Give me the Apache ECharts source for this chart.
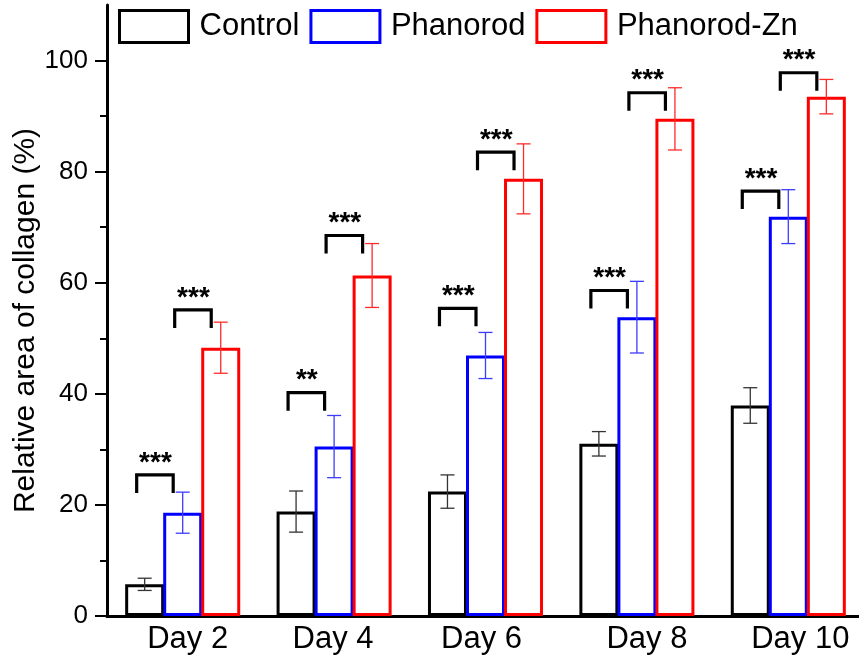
<!DOCTYPE html>
<html><head><meta charset="utf-8">
<script src="https://cdn.jsdelivr.net/npm/echarts@6/dist/echarts.min.js"></script>
<style>html,body{margin:0;padding:0;background:#fff}#c{width:859px;height:663px}</style>
</head><body><div id="c"></div>
<script>
// ---- data ----
const categories = ['Day 2', 'Day 4', 'Day 6', 'Day 8', 'Day 10'];
const seriesNames = ['Control', 'Phanorod', 'Phanorod-Zn'];
const controlMean = [5.7, 18.8, 22.4, 31.0, 37.9];
const controlErr = [1.1, 3.7, 3.0, 2.2, 3.2];
const phanorodMean = [18.6, 30.5, 46.9, 53.8, 71.9];
const phanorodErr = [3.7, 5.6, 4.15, 6.45, 4.85];
const phanorodZnMean = [48.3, 61.3, 78.7, 89.5, 93.5];
const phanorodZnErr = [4.6, 5.75, 6.3, 5.6, 3.1];
const sigCtrlVsPhanorodLevel = [25.4, 40.2, 55.4, 58.6, 76.5];
const sigCtrlVsPhanorodText = ['***', '**', '***', '***', '***'];
const sigPhanorodVsZnLevel = [55.1, 68.5, 83.5, 94.2, 97.8];
const sigPhanorodVsZnText = ['***', '***', '***', '***', '***'];
const yTickValues = [0, 20, 40, 60, 80, 100];
const yMinorTickValues = [10, 30, 50, 70, 90];

// ---- styles / layout ----
const FONT = 'Liberation Sans, Arial, Helvetica, sans-serif';
const colors = ['#000000', '#0000ff', '#ff0000'];
const errColors = ['#333333', '#3c3cff', '#ff2a2a'];
const BAR_W = 39, BAR_GAP = -0.025, STEP = BAR_W * (1 + BAR_GAP), CAP = 14;
const labelShiftPx = [5, -1, -4, 10, 12]; // visual nudge of category labels (style only)

const means = [controlMean, phanorodMean, phanorodZnMean];
const errs = [controlErr, phanorodErr, phanorodZnErr];

function errRender(si) {
  return function (params, api) {
    const cat = api.value(0), m = api.value(1), e = api.value(2);
    const x = api.coord([cat, m])[0] + (si - 1) * STEP;
    const yt = api.coord([cat, m + e])[1];
    const yb = api.coord([cat, m - e])[1];
    const st = { stroke: errColors[si], lineWidth: 1.3 };
    return { type: 'group', children: [
      { type: 'line', shape: { x1: x, y1: yt, x2: x, y2: yb }, style: st },
      { type: 'line', shape: { x1: x - CAP / 2, y1: yt, x2: x + CAP / 2, y2: yt }, style: st },
      { type: 'line', shape: { x1: x - CAP / 2, y1: yb, x2: x + CAP / 2, y2: yb }, style: st }
    ]};
  };
}

function sigRender(leftIdx, texts) {
  return function (params, api) {
    const cat = api.value(0), lv = api.value(1);
    const p = api.coord([cat, lv]);
    const x1 = p[0] + (leftIdx - 1) * STEP - 8;
    const x2 = p[0] + leftIdx * STEP - 9.5;
    const y = p[1];
    return { type: 'group', children: [
      { type: 'polyline', shape: { points: [[x1, y + 18], [x1, y], [x2, y], [x2, y + 18]] },
        style: { stroke: '#000', lineWidth: 3.2, fill: null, lineJoin: 'miter' } },
      { type: 'text', style: { text: texts[params.dataIndex], x: (x1 + x2) / 2 + 0.5, y: y - 12,
        textAlign: 'center', textVerticalAlign: 'middle', font: 'bold 28px ' + FONT, fill: '#000' } }
    ]};
  };
}

const series = [];
seriesNames.forEach((n, si) => {
  series.push({
    name: n, type: 'bar', data: means[si], barWidth: BAR_W, barGap: (BAR_GAP * 100) + '%',
    itemStyle: { color: '#ffffff', borderColor: colors[si], borderWidth: 3 },
    emphasis: { disabled: true }, z: 2
  });
});
seriesNames.forEach((n, si) => {
  series.push({
    type: 'custom', renderItem: errRender(si), z: 3, silent: true,
    encode: { x: 0, y: 1 },
    data: categories.map((c, i) => [i, means[si][i], errs[si][i]])
  });
});
series.push({
  type: 'custom', renderItem: sigRender(0, sigCtrlVsPhanorodText), z: 4, silent: true,
  encode: { x: 0, y: 1 }, data: categories.map((c, i) => [i, sigCtrlVsPhanorodLevel[i]])
});
series.push({
  type: 'custom', renderItem: sigRender(1, sigPhanorodVsZnText), z: 4, silent: true,
  encode: { x: 0, y: 1 }, data: categories.map((c, i) => [i, sigPhanorodVsZnLevel[i]])
});

const xCatData = categories.map((c, i) => {
  const s = labelShiftPx[i];
  return { value: c, textStyle: { padding: s >= 0 ? [0, 0, 0, 2 * s] : [0, -2 * s, 0, 0] } };
});

const chart = echarts.init(document.getElementById('c'), null, { renderer: 'canvas' });
chart.setOption({
  animation: false,
  backgroundColor: '#ffffff',
  grid: { left: 107, top: 5, width: 757, bottom: 47, containLabel: false, outerBoundsMode: 'none' },
  legend: {
    left: 118, top: 9, padding: 0, itemWidth: 69, itemHeight: 32, itemGap: 10, icon: 'rect',
    textStyle: { fontFamily: FONT, fontSize: 31, color: '#000', padding: [0, 0, 0, 6] },
    data: seriesNames.map((n, si) => ({ name: n,
      itemStyle: { color: '#ffffff', borderColor: colors[si], borderWidth: 3 } })),
    selectedMode: false
  },
  xAxis: [{
    type: 'category', data: xCatData, position: 'bottom',
    axisLine: { lineStyle: { color: '#000', width: 2.5 } },
    axisTick: { show: false },
    axisLabel: { fontFamily: FONT, fontSize: 31, color: '#000', margin: 8, interval: 0 }
  }, {
    type: 'category', data: categories, position: 'top',
    axisLine: { show: true, lineStyle: { color: '#000', width: 3 } },
    axisTick: { show: false }, axisLabel: { show: false }
  }],
  yAxis: [{
    type: 'value', min: 0, max: 110, position: 'left',
    name: 'Relative area of collagen (%)', nameLocation: 'middle', nameGap: 66, nameMoveOverlap: false,
    nameTextStyle: { fontFamily: FONT, fontSize: 30, color: '#000', padding: [0, 20, 0, 0] },
    axisLine: { show: true, lineStyle: { color: '#000', width: 3 } },
    axisTick: { show: true, length: 12, customValues: yTickValues, lineStyle: { color: '#000', width: 2 } },
    axisLabel: { customValues: yTickValues, fontFamily: FONT, fontSize: 26, color: '#000', margin: 19 },
    splitLine: { show: false }
  }, {
    type: 'value', min: 0, max: 110, position: 'left',
    axisLine: { show: false },
    axisTick: { show: true, length: 7, customValues: yMinorTickValues, lineStyle: { color: '#000', width: 2 } },
    axisLabel: { show: false }, splitLine: { show: false }
  }],
  series: series
});
</script></body></html>
